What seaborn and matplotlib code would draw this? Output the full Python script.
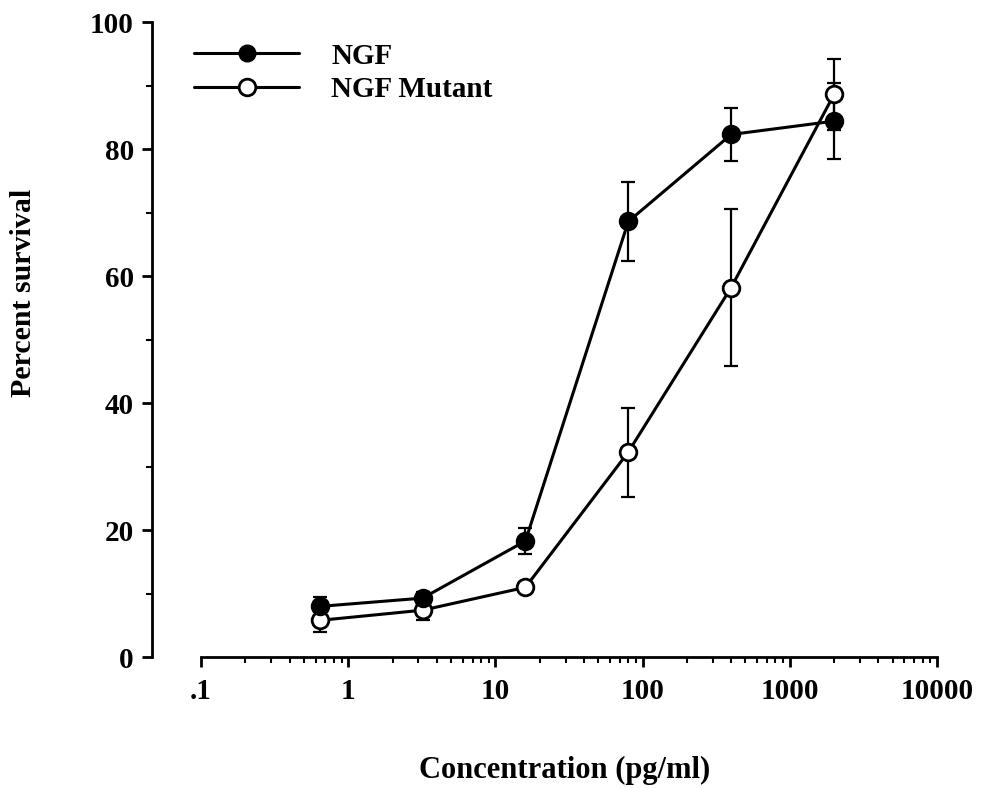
import matplotlib
matplotlib.use("Agg")
import matplotlib.pyplot as plt
import seaborn as sns
import numpy as np
import pandas as pd
from matplotlib.lines import Line2D
from matplotlib.ticker import FixedLocator, NullFormatter

conc = [0.64, 3.2, 16, 80, 400, 2000]
ngf = [8.0, 9.3, 18.3, 68.6, 82.3, 84.4]
ngf_err = [1.5, 1.0, 2.0, 6.2, 4.1, 6.0]
mutant = [5.8, 7.4, 11.0, 32.3, 58.2, 88.6]
mutant_err = [1.8, 1.5, 0.8, 7.0, 12.3, 5.6]
x_ticks = [0.1, 1, 10, 100, 1000, 10000]
x_labels = [".1", "1", "10", "100", "1000", "10000"]
y_ticks = [0, 20, 40, 60, 80, 100]
y_minor = [10, 30, 50, 70, 90]

sns.set_style("ticks", {"text.color": "black", "axes.labelcolor": "black",
                        "xtick.color": "black", "ytick.color": "black",
                        "axes.edgecolor": "black"})
plt.rcParams['font.family'] = ['Liberation Serif', 'DejaVu Serif']
plt.rcParams['font.weight'] = 'bold'

fig = plt.figure(figsize=(9.81, 7.88), dpi=100)
ax = fig.add_axes([0.155, 0.166, 0.800, 0.806])

df = pd.DataFrame({
    "conc": conc * 2,
    "val": ngf + mutant,
    "series": ["NGF"] * len(conc) + ["NGF Mutant"] * len(conc),
})

for name, vals, err, face in [("NGF Mutant", mutant, mutant_err, "white"),
                               ("NGF", ngf, ngf_err, "black")]:
    ax.errorbar(conc, vals, yerr=err, fmt="none", ecolor="black",
                elinewidth=1.6, capsize=5, capthick=1.6, zorder=2)
    sub = df[df.series == name]
    sns.lineplot(data=sub, x="conc", y="val", ax=ax, color="black",
                 linewidth=2.2, marker="o", markersize=12,
                 markerfacecolor=face, markeredgecolor="black",
                 markeredgewidth=2, zorder=3, legend=False)

ax.set_xscale("log")
ax.set_xlim(0.0464, 10000)
ax.set_ylim(0, 100)
ax.spines["bottom"].set_bounds(0.1, 10000)
ax.spines["left"].set_bounds(0, 100)
for s in ["top", "right"]:
    ax.spines[s].set_visible(False)
for s in ["left", "bottom"]:
    ax.spines[s].set_linewidth(2)
    ax.spines[s].set_color("black")

ax.xaxis.set_major_locator(FixedLocator(x_ticks))
ax.set_xticklabels(x_labels)
minor = [m * d for d in [0.1, 1, 10, 100, 1000] for m in range(2, 10)]
ax.xaxis.set_minor_locator(FixedLocator(minor))
ax.xaxis.set_minor_formatter(NullFormatter())
ax.set_yticks(y_ticks)
ax.set_yticklabels([str(v) for v in y_ticks])
ax.yaxis.set_minor_locator(FixedLocator(y_minor))
ax.yaxis.set_minor_formatter(NullFormatter())
ax.tick_params(axis="both", which="major", labelsize=21, width=2, length=7,
               direction="out", colors="black")
ax.tick_params(axis="both", which="minor", width=1.5, length=4, direction="out",
               colors="black")
ax.tick_params(axis="x", pad=8)
ax.tick_params(axis="y", pad=6)

ax.set_xlabel("Concentration (pg/ml)", fontsize=22, fontweight="bold", color="black")
ax.xaxis.set_label_coords(0.526, -0.156)
ax.set_ylabel("Percent survival", fontsize=21.5, fontweight="bold", color="black")
ax.yaxis.set_label_coords(-0.1465, 0.574)

handles = [
    Line2D([], [], color="black", linewidth=2.2, marker="o", markersize=12,
           markerfacecolor="black", markeredgecolor="black"),
    Line2D([], [], color="black", linewidth=2.2, marker="o", markersize=12,
           markerfacecolor="white", markeredgecolor="black", markeredgewidth=2),
]
leg = ax.legend(handles, ["NGF", "NGF Mutant"], loc="upper left",
                bbox_to_anchor=(0.02, 1.009), frameon=False, handlelength=3.6,
                handletextpad=1.1, labelspacing=0.22,
                prop={"family": "Liberation Serif", "weight": "bold", "size": 21})
for t in leg.get_texts():
    t.set_color("black")

fig.savefig("out.png", dpi=100)
